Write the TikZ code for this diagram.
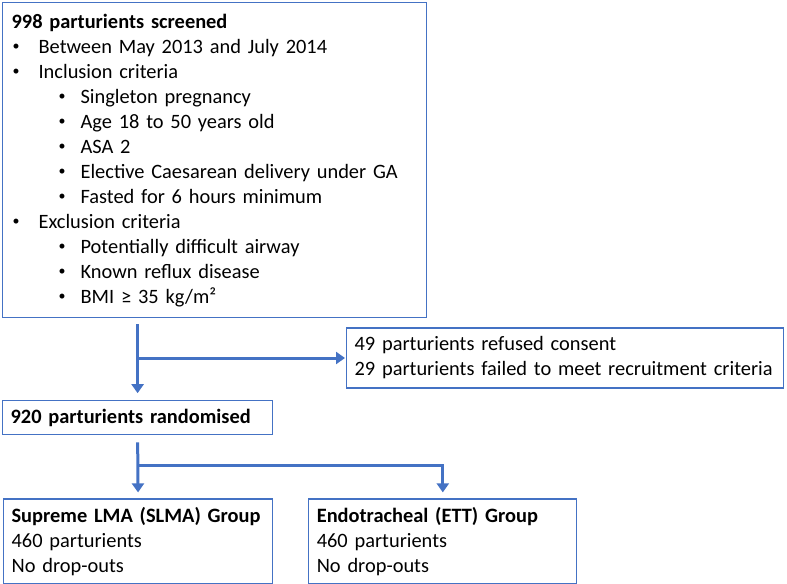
\documentclass[tikz,border=0pt]{standalone}
\usepackage{fontspec}
\setmainfont{Carlito}
\usepackage{tikz}
\usetikzlibrary{positioning,arrows.meta}

\definecolor{flowblue}{RGB}{68,114,196}
\newcommand{\smallbul}{\raisebox{2.2bp}{\fontsize{14bp}{14bp}\selectfont\textbullet}}
\newcommand{\bulA}[1]{\hspace*{1bp}\makebox[26bp][l]{\smallbul}#1}
\newcommand{\bulB}[1]{\hspace*{47bp}\makebox[22bp][l]{\smallbul}#1}

\begin{document}
\begin{tikzpicture}[
x=1bp, y=-1bp,
font=\fontsize{20.4bp}{25bp}\selectfont,
box/.style={rectangle, draw=flowblue, line width=1.2bp, fill=white, align=left, inner ysep=0pt, inner xsep=8bp},
arrow/.style={-{Triangle[length=9bp,width=12bp]}, line width=3bp, flowblue}
]
\useasboundingbox (0,0) rectangle (787,584);

% --- SCREENING ---
\node[box, anchor=north west, inner xsep=9bp, text width=406bp, minimum height=315bp] (screened) at (2,2) {\textbf{998 parturients screened}\\
\bulA{Between May 2013 and July 2014}\\
\bulA{Inclusion criteria}\\
\bulB{Singleton pregnancy}\\
\bulB{Age 18 to 50 years old}\\
\bulB{ASA 2}\\
\bulB{Elective Caesarean delivery under GA}\\
\bulB{Fasted for 6 hours minimum}\\
\bulA{Exclusion criteria}\\
\bulB{Potentially difficult airway}\\
\bulB{Known reflux disease}\\
\bulB{BMI ≥ 35 kg/m²}};

% --- RANDOMISATION ---
\node[box, below right=82bp and 0bp of screened.south west, text width=254bp, minimum height=34bp] (randomised) {\textbf{920 parturients randomised}};

\coordinate (split1) at (137,358);
\node[box, right=209bp of split1, text width=421bp, minimum height=60bp] (excluded) {49 parturients refused consent\\29 parturients failed to meet recruitment criteria};

% --- GROUPS ---
\node[box, below right=63bp and 1bp of randomised.south west, text width=253bp, minimum height=85bp] (slma) {\textbf{Supreme LMA (SLMA) Group}\\460 parturients\\No drop-outs};
\node[box, right=35bp of slma, text width=252bp, minimum height=85bp] (ett) {\textbf{Endotracheal (ETT) Group}\\460 parturients\\No drop-outs};

\coordinate (split2) at (137,465);

% --- FLOWS ---
\draw[arrow, shorten <=6bp, shorten >=7bp] (screened.south -| randomised.north) -- (randomised.north);
\draw[arrow, shorten >=1bp] (split1) -- (excluded.west);
\draw[arrow, shorten <=7bp, shorten >=6bp] (randomised.south) -- (slma.north);
\draw[arrow, shorten >=6bp] (split2) -| (ett.north);

\end{tikzpicture}
\end{document}
